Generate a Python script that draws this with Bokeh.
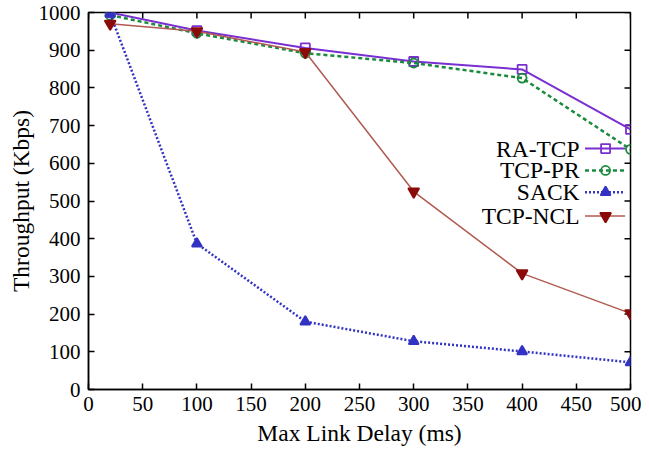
import math
from bokeh.plotting import figure
from bokeh.models import Label, Range1d, FixedTicker
from bokeh.embed import file_html
from bokeh.resources import INLINE

# ---- data ----
delay = [20, 100, 200, 300, 400, 500]
ra_tcp = [1000, 952, 906, 870, 849, 690]
tcp_pr = [993, 945, 892, 866, 826, 637]
sack = [997, 387, 180, 128, 101, 72]
tcp_ncl = [970, 950, 895, 525, 308, 202]
x_ticks = [0, 50, 100, 150, 200, 250, 300, 350, 400, 450, 500]
y_ticks = [0, 100, 200, 300, 400, 500, 600, 700, 800, 900, 1000]
series_names = ["RA-TCP", "TCP-PR", "SACK", "TCP-NCL"]

FONT = "Liberation Serif"
X_MIN, X_MAX, Y_MIN, Y_MAX = 0, 500, 0, 1000

p = figure(width=641, height=448, output_backend="svg", toolbar_location=None,
           x_range=Range1d(X_MIN, X_MAX), y_range=Range1d(Y_MIN, Y_MAX),
           min_border_left=88, min_border_right=11, min_border_top=12, min_border_bottom=59,
           x_axis_label="Max Link Delay (ms)", y_axis_label="Throughput (Kbps)")
p.grid.visible = False
p.outline_line_color = "black"
p.outline_line_width = 1.5
p.background_fill_color = "white"
p.border_fill_color = "white"

for ax, ticks in ((p.xaxis[0], x_ticks), (p.yaxis[0], y_ticks)):
    ax.ticker = FixedTicker(ticks=ticks)
    ax.major_tick_in = 6
    ax.major_tick_out = 0
    ax.minor_tick_in = 0
    ax.minor_tick_out = 0
    ax.axis_line_width = 1.5
    ax.major_tick_line_width = 1.5
    ax.major_label_text_font = FONT
    ax.major_label_text_font_size = "21px"
    ax.major_label_text_color = "black"
    ax.axis_label_text_font = FONT
    ax.axis_label_text_font_size = "23.5px"
    ax.axis_label_text_font_style = "normal"
    ax.axis_label_text_color = "black"
p.xaxis[0].major_label_standoff = 7
p.xaxis[0].axis_label_standoff = 6
p.yaxis[0].major_label_standoff = 8
p.yaxis[0].axis_label_standoff = 2

# mirrored inward ticks on top and right edges
p.ray(x=x_ticks, y=[Y_MAX] * len(x_ticks), length=6, length_units="screen",
      angle=-math.pi / 2, line_color="black", line_width=1.5)
p.ray(x=[X_MAX] * len(y_ticks), y=y_ticks, length=6, length_units="screen",
      angle=math.pi, line_color="black", line_width=1.5)

styles = [
    dict(color="#7a2fd0", dash="solid", width=2.0, marker="square", fill=None, size=9, mcol="#7a2fd0"),
    dict(color="#1a8a3c", dash="4 3", width=2.5, marker="circle", fill=None, size=9, mcol="#1a8a3c"),
    dict(color="#3232c4", dash="2 2", width=2.5, marker="triangle", fill="#3232c4", size=10, mcol="#3232c4"),
    dict(color="#b05a50", dash="solid", width=1.5, marker="inverted_triangle", fill="#8b0a0a", size=11, mcol="#8b0a0a"),
]
values = [ra_tcp, tcp_pr, sack, tcp_ncl]

# legend layout (data coordinates for samples)
leg_x0, leg_x1, leg_xm = 458, 495, 477
leg_rows = [639, 581, 523, 460]
leg_text_x = 453

for name, ys, st, ly in zip(series_names, values, styles, leg_rows):
    p.line(delay, ys, line_color=st["color"], line_dash=st["dash"], line_width=st["width"])
    p.scatter(delay, ys, marker=st["marker"], size=st["size"], line_color=st["mcol"],
              line_width=1.8, fill_color=st["fill"])
    # legend sample
    p.line([leg_x0, leg_x1], [ly, ly], line_color=st["color"], line_dash=st["dash"], line_width=st["width"])
    p.scatter([leg_xm], [ly], marker=st["marker"], size=st["size"], line_color=st["mcol"],
              line_width=1.8, fill_color=st["fill"])
    p.add_layout(Label(x=leg_text_x, y=ly, text=name, text_align="right", text_baseline="middle",
                       text_font=FONT, text_font_size="23.5px", text_color="black"))

open("out.html", "w").write(file_html(p, INLINE))
